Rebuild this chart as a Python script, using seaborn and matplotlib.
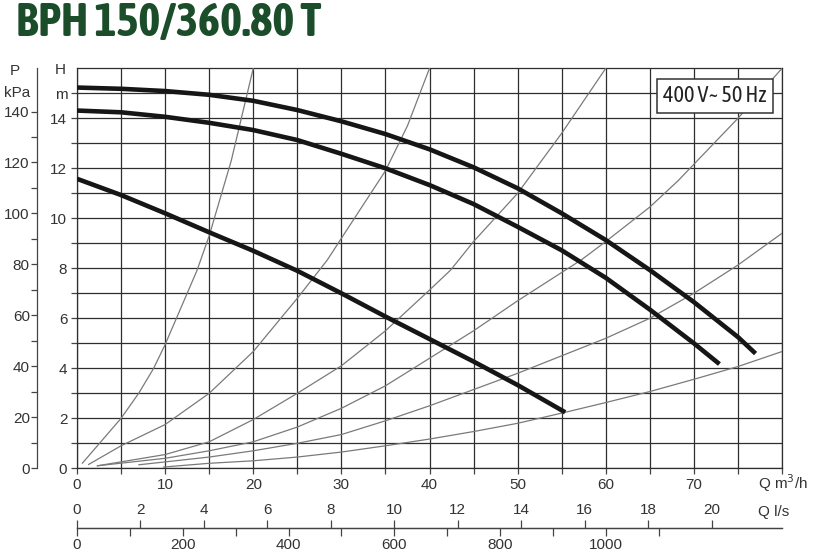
import numpy as np
import pandas as pd
import matplotlib
matplotlib.use("Agg")
import matplotlib.pyplot as plt
from matplotlib import font_manager
import matplotlib.patheffects as pe
import seaborn as sns

# pump curves, Q in m3/h, H in m
q_max = [0, 5, 10, 15, 20, 25, 30, 35, 40, 45, 50, 55, 60, 65, 70, 75, 77]
h_max = [15.23, 15.18, 15.09, 14.94, 14.7, 14.33, 13.88, 13.37, 12.76, 12.04, 11.2, 10.2, 9.13, 7.93, 6.65, 5.25, 4.59]
q_mid = [0, 5, 10, 15, 20, 25, 30, 35, 40, 45, 50, 55, 60, 65, 70, 72.9]
h_mid = [14.31, 14.24, 14.06, 13.82, 13.53, 13.13, 12.58, 12.0, 11.33, 10.57, 9.66, 8.72, 7.62, 6.35, 5.0, 4.17]
q_min = [0, 5, 10, 15, 20, 25, 30, 35, 40, 45, 50, 55.4]
h_min = [11.58, 10.93, 10.2, 9.44, 8.7, 7.9, 7.0, 6.07, 5.17, 4.27, 3.33, 2.24]

# system (resistance) curves
sys_a_q = [0.6, 5, 7, 8.7, 10, 13.6, 15, 17.5, 20]
sys_a_h = [0.2, 2.0, 3.0, 4.0, 4.95, 7.9, 9.3, 12.3, 16]
sys_b_q = [1.3, 5, 10, 15, 20, 25, 28.4, 30, 35, 37.5, 40]
sys_b_h = [0.15, 0.9, 1.75, 3.0, 4.67, 6.8, 8.33, 9.2, 11.9, 13.7, 16]
sys_c_q = [2.3, 10, 15, 20, 25, 30, 35, 40, 42.4, 45, 50, 55, 60]
sys_c_h = [0.1, 0.55, 1.06, 1.95, 3.0, 4.1, 5.5, 7.13, 7.93, 9.07, 11.0, 13.4, 16]
sys_d_q = [2.3, 10, 15, 20, 25, 30, 35, 40, 45, 50, 57.2, 60, 65, 68.2, 75, 80]
sys_d_h = [0.1, 0.4, 0.7, 1.06, 1.65, 2.4, 3.3, 4.4, 5.5, 6.7, 8.33, 9.07, 10.45, 11.5, 14.0, 16]
sys_e_q = [7, 15, 20, 25, 30, 35, 40, 45, 50, 55, 60, 65, 70, 75, 80]
sys_e_h = [0.14, 0.45, 0.7, 1.0, 1.35, 1.9, 2.5, 3.15, 3.8, 4.5, 5.2, 6.0, 7.0, 8.13, 9.4]
sys_f_q = [9.8, 15, 20, 25, 30, 35, 40, 45, 50, 55.4, 60, 65, 70, 75, 80]
sys_f_h = [0.05, 0.2, 0.3, 0.45, 0.65, 0.9, 1.17, 1.47, 1.8, 2.24, 2.63, 3.07, 3.56, 4.07, 4.67]

h_ticks = list(range(0, 16))
h_labels = [str(v) if v % 2 == 0 else "" for v in h_ticks]
h_labels[15] = "m"
q_ticks = list(range(0, 81, 5))
q_labels = [str(v) if v % 10 == 0 and v < 80 else "" for v in q_ticks]
p_major = list(range(0, 141, 20))
p_minor = list(range(10, 131, 20))
ls_ticks = list(range(0, 21, 2))
lmin_ticks = list(range(0, 1101, 100))
lmin_labels = [str(v) if v % 200 == 0 else "" for v in lmin_ticks]

title = "BPH 150/360.80 T"
box_text = "400 V~ 50 Hz"


def pick_narrow():
    # look for an installed narrow / condensed face, bold if possible
    names = [f for f in font_manager.fontManager.ttflist
             if "Narrow" in f.name or "Condensed" in f.name]
    bold = [f for f in names if f.weight in (600, 700, 800, 900, "bold", "heavy", "black")]
    if bold:
        return bold[0].name, True
    if names:
        return names[0].name, False
    return "Liberation Sans", True


narrow, narrow_has_bold = pick_narrow()

sns.set_theme(style="white")
plt.rcParams["font.family"] = ["Liberation Sans", "DejaVu Sans"]
plt.rcParams["text.color"] = "#333333"
plt.rcParams["xtick.color"] = "#444444"
plt.rcParams["ytick.color"] = "#444444"
plt.rcParams["xtick.labelcolor"] = "#333333"
plt.rcParams["ytick.labelcolor"] = "#333333"

W, H = 814, 555
fig = plt.figure(figsize=(W / 100, H / 100), dpi=100)
fig.patch.set_facecolor("white")


def fx(px):
    return px / W


def fy(py):
    return 1 - py / H


ax = fig.add_axes([fx(77), fy(468.3), (782 - 77) / W, 400 / H])
ax.set_facecolor("white")

pump = pd.concat([
    pd.DataFrame({"Q": q_max, "H": h_max, "curve": "max"}),
    pd.DataFrame({"Q": q_mid, "H": h_mid, "curve": "mid"}),
    pd.DataFrame({"Q": q_min, "H": h_min, "curve": "min"}),
])
system = pd.concat([
    pd.DataFrame({"Q": sys_a_q, "H": sys_a_h, "curve": "a"}),
    pd.DataFrame({"Q": sys_b_q, "H": sys_b_h, "curve": "b"}),
    pd.DataFrame({"Q": sys_c_q, "H": sys_c_h, "curve": "c"}),
    pd.DataFrame({"Q": sys_d_q, "H": sys_d_h, "curve": "d"}),
    pd.DataFrame({"Q": sys_e_q, "H": sys_e_h, "curve": "e"}),
    pd.DataFrame({"Q": sys_f_q, "H": sys_f_h, "curve": "f"}),
])

sns.lineplot(data=system, x="Q", y="H", hue="curve", palette=["#7a7a7a"] * 6,
             sort=False, estimator=None, legend=False, linewidth=0.9, ax=ax, zorder=3,
             solid_joinstyle="round")
sns.lineplot(data=pump, x="Q", y="H", hue="curve", palette=["#161616"] * 3,
             sort=False, estimator=None, legend=False, linewidth=3.3, ax=ax, zorder=4,
             solid_capstyle="butt", solid_joinstyle="round")

ax.set_xlim(0, 80)
ax.set_ylim(0, 16)
ax.set_xticks(q_ticks)
ax.set_xticklabels(q_labels)
ax.set_yticks(h_ticks)
ax.set_yticklabels(h_labels)
ax.grid(True, color="#2e2e2e", linewidth=0.9)
ax.set_axisbelow(True)
ax.set_xlabel("")
ax.set_ylabel("")
for s in ax.spines.values():
    s.set_color("#2e2e2e")
    s.set_linewidth(0.9)
ax.tick_params(axis="both", which="major", direction="out", length=4, width=0.9,
               labelsize=11, bottom=True, left=True, pad=3)

# pressure axis on the far left
ax_p = ax.twinx()
ax_p.set_ylim(0, 16 * 9.81)
ax_p.yaxis.set_ticks_position("left")
ax_p.spines["left"].set_position(("outward", 29))
ax_p.spines["left"].set_color("#444444")
ax_p.spines["left"].set_linewidth(0.9)
for side in ["right", "top", "bottom"]:
    ax_p.spines[side].set_visible(False)
ax_p.set_yticks(p_major)
ax_p.set_yticks(p_minor, minor=True)
ax_p.tick_params(axis="y", which="both", direction="out", length=4, width=0.9,
                 labelsize=11, left=True, right=False, labelleft=True, labelright=False, pad=1)
ax_p.grid(False)

# flow axes below: l/s above the line, l/min below
pos = -(528 - 468.3) / 400
ax_ls = ax.secondary_xaxis(pos, functions=(lambda q: q / 3.6, lambda s: s * 3.6))
ax_ls.set_xticks(ls_ticks)
ax_ls.tick_params(axis="x", top=True, labeltop=True, bottom=False, labelbottom=False,
                  direction="out", length=6, width=0.9, labelsize=11, pad=2)
ax_ls.spines["bottom"].set_color("#444444")
ax_ls.spines["bottom"].set_linewidth(0.9)

ax_lm = ax.secondary_xaxis(pos, functions=(lambda q: q * 1000 / 60, lambda v: v * 60 / 1000))
ax_lm.set_xticks(lmin_ticks)
ax_lm.set_xticklabels(lmin_labels)
ax_lm.tick_params(axis="x", top=False, labeltop=False, bottom=True, labelbottom=True,
                  direction="out", length=6, width=0.9, labelsize=11, pad=1)
ax_lm.spines["bottom"].set_color("#444444")
ax_lm.spines["bottom"].set_linewidth(0.9)

# texts
title_color = "#1b4d2b"
t_title = fig.text(fx(16), fy(23), title, ha="left", va="center", fontsize=34,
                   fontweight="bold", color=title_color, family=[narrow, "DejaVu Sans"])
if not narrow_has_bold:
    # regular narrow face only: thicken the strokes
    t_title.set_path_effects([pe.withStroke(linewidth=2.2, foreground=title_color)])
fig.text(fx(15), fy(71), "P", ha="center", va="center", fontsize=11)
fig.text(fx(30), fy(93), "kPa", ha="right", va="center", fontsize=11)
fig.text(fx(66), fy(70), "H", ha="right", va="center", fontsize=11)
fig.text(fx(758), fy(483), "Q m$^3$/h", ha="left", va="center", fontsize=11)
fig.text(fx(758), fy(512), "Q l/s", ha="left", va="center", fontsize=11)
box_style = dict(boxstyle="square,pad=0.28", facecolor="white",
                 edgecolor="#333333", linewidth=1.1)
t_box = fig.text(fx(715), fy(96), box_text, ha="center", va="center", fontsize=16,
                 family=[narrow, "Liberation Sans"], color="#222222", zorder=10)

# shrink the two wide texts so their widths match the reference
fig.canvas.draw()
r = fig.canvas.get_renderer()
for t, target in [(t_title, 305), (t_box, 110)]:
    bb = t.get_window_extent(renderer=r)
    if bb.width > target:
        t.set_fontsize(t.get_fontsize() * target / bb.width)
t_box.set_bbox(box_style)

fig.savefig("out.png", dpi=100)
